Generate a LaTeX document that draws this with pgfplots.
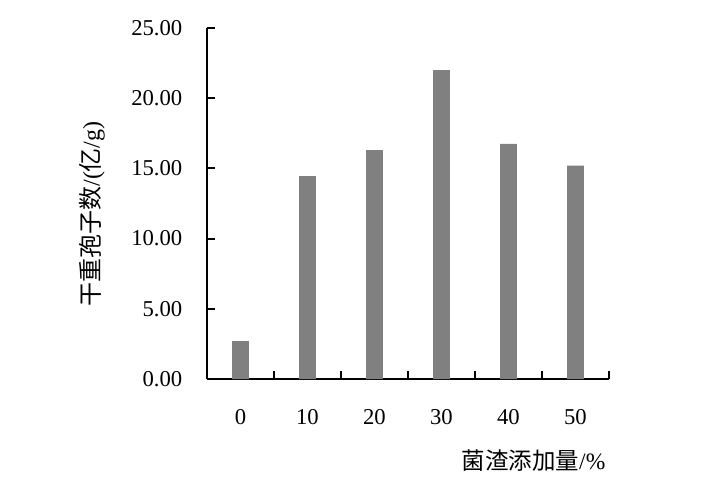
\documentclass[border=0pt]{standalone}
\usepackage{pgfplots}
\pgfplotsset{compat=1.18}
\usepackage{fontspec}
\setmainfont{Liberation Serif}
\newfontfamily\cjk{Noto Sans CJK SC}
\definecolor{bargray}{RGB}{128,128,128}
\begin{document}
\begin{tikzpicture}[x=0.75pt,y=0.75pt]
\begin{axis}[
  at={(0,0)}, anchor=south west,
  scale only axis,
  width=301.5pt, height=263.25pt,
  xmin=-0.5, xmax=5.5, ymin=0, ymax=25,
  axis x line*=bottom, axis y line*=left,
  axis line style={line width=1.6pt, -},
  ytick={0,5,10,15,20,25},
  xtick={0,1,2,3,4,5},
  xticklabels={0,10,20,30,40,50},
  minor xtick={-0.5,0.5,1.5,2.5,3.5,4.5,5.5},
  major x tick style={draw=none},
  minor tick length=6pt,
  major tick length=6pt,
  tick align=inside,
  every tick/.style={black, line width=1.6pt},
  tick label style={font=\fontsize{17}{20}\selectfont},
  /pgf/number format/assume math mode=true,
  yticklabel={\pgfmathprintnumber[fixed,fixed zerofill,precision=2]{\tick}},
  yticklabel style={xshift=-15pt},
  xticklabel style={yshift=-19pt},
  clip=false,
]
\addplot[ybar, bar width=0.25, fill=bargray, draw=none] coordinates {
  (0,2.70) (1,14.45) (2,16.30) (3,22.00) (4,16.75) (5,15.20)
};
\end{axis}
\node[rotate=90, font=\fontsize{18}{21}\selectfont, anchor=center] at (-115,165) {{\cjk 干重孢子数}/({\cjk 亿}/g)};
\node[font=\fontsize{17.6}{21}\selectfont, anchor=east] at (403,-82) {{\cjk 菌渣添加量}/\%};
\useasboundingbox (-207,-107) rectangle (506,379);
\end{tikzpicture}
\end{document}
